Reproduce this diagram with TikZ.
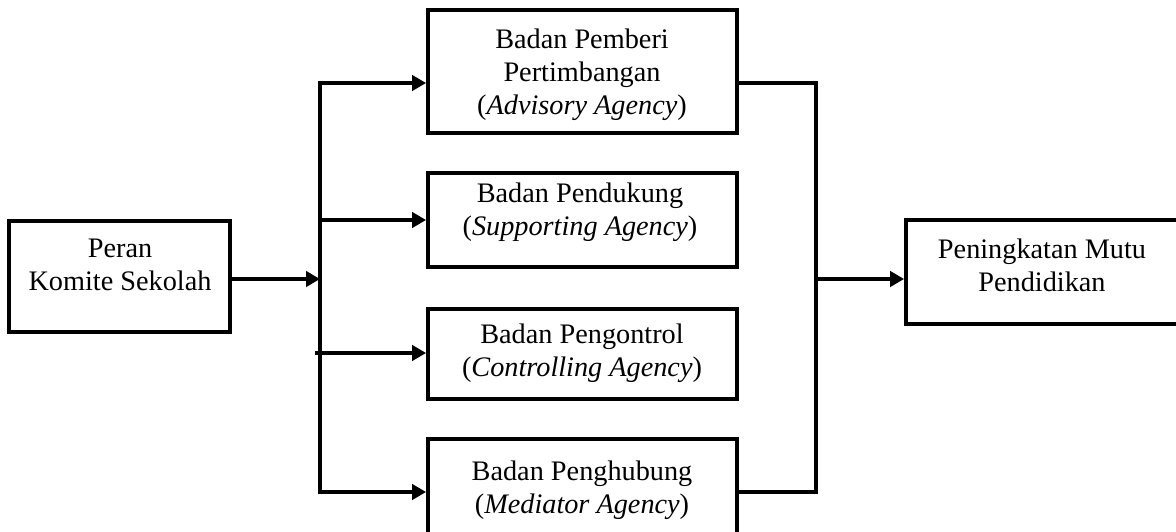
\documentclass[tikz,border=0pt]{standalone}
\usepackage{fontspec}
\setmainfont{Liberation Serif}
\usetikzlibrary{arrows.meta}
\begin{document}
\begin{tikzpicture}[x=0.75pt,y=-0.75pt,
  box/.style={draw, line width=2.9pt, rectangle, inner sep=0pt},
  sz/.style 2 args={minimum width=#1*0.75pt, minimum height=#2*0.75pt},
  txt/.style={align=center, inner sep=0pt, font=\fontsize{21.2}{24.8}\selectfont},
  conn/.style={line width=2.5pt},
  arr/.style={conn, -{Triangle[length=10.5pt,width=11.5pt]}},
  darr/.style={conn, {Triangle[length=10.5pt,width=11.5pt]}-{Triangle[length=10.5pt,width=11.5pt]}}]
\fill[white] (0,0) rectangle (1176,531);
\useasboundingbox (0,0) rectangle (1176,531);
\clip (0,0) rectangle (1176,531);

% boxes
\node[box, sz={221}{111}] (peran) at (119.5,276.5) {};
\node[box, sz={309}{123}] (b1) at (582.5,71.5) {};
\node[box, sz={309}{94}]  (b2) at (582.5,220) {};
\node[box, sz={309}{90}]  (b3) at (582.5,354) {};
\node[box, sz={309}{102}] (b4) at (582.5,490) {};
\node[box, sz={272}{104}] (out) at (1042,272) {};

% texts
\node[txt] (peranT) at (120,265) {Peran\\Komite Sekolah};
\node[txt] (b1T) at (582,75) {Badan Pemberi\\Pertimbangan\\(\textit{Advisory Agency})};
\node[txt] (b2T) at (580,212) {Badan Pendukung\\(\textit{Supporting Agency})};
\node[txt] (b3T) at (582,353) {Badan Pengontrol\\(\textit{Controlling Agency})};
\node[txt] (b4T) at (582,490) {Badan Penghubung\\(\textit{Mediator Agency})};
\node[txt] (outT) at (1042,265) {Peningkatan Mutu\\Pendidikan};

% junction points
\coordinate (jin) at (320,279);
\coordinate (tl1) at (320,83);
\coordinate (tl4) at (320,492);
\coordinate (tl2) at (320,220);
\coordinate (tl3) at (315,353);
\coordinate (tr1) at (816,83);
\coordinate (tr4) at (816,492);
\coordinate (trm) at (816,279);

% left side
\draw[arr] (peran.east |- jin) -- (jin);
\draw[darr] (tl1 -| b1.west) -- (tl1) -- (tl4) -- (tl4 -| b4.west);
\draw[arr] (tl2) -- (tl2 -| b2.west);
\draw[arr] (tl3) -- (tl3 -| b3.west);

% right side
\draw[conn] (tr1 -| b1.east) -- (tr1) -- (tr4) -- (tr4 -| b4.east);
\draw[arr] (trm) -- (trm -| out.west);
\end{tikzpicture}
\end{document}
